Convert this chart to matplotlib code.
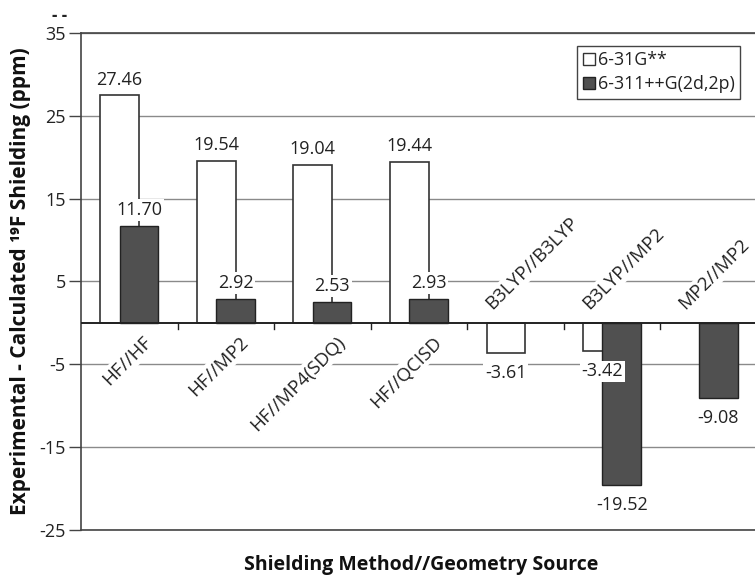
import numpy as np
import matplotlib
matplotlib.use("Agg")
import matplotlib.pyplot as plt
from matplotlib.patches import Patch

plt.rcParams['font.family'] = ['Open Sans', 'DejaVu Sans']
plt.rcParams['axes.unicode_minus'] = False

methods = ['HF//HF', 'HF//MP2', 'HF//MP4(SDQ)', 'HF//QCISD',
           'B3LYP//B3LYP', 'B3LYP//MP2', 'MP2//MP2']
basis_small = [27.46, 19.54, 19.04, 19.44, -3.61, -3.42, np.nan]
basis_large = [11.70, 2.92, 2.53, 2.93, np.nan, -19.52, -9.08]
series_names = ['6-31G**', '6-311++G(2d,2p)']
yticks = [-25, -15, -5, 5, 15, 25, 35]

edge = '#333333'
dark = '#505050'
txt = '#222222'

fig = plt.figure(figsize=(7.55, 5.76), dpi=100)
ax = fig.add_axes([81 / 755, 46 / 576, 676 / 755, 497 / 576])

x = np.arange(len(methods))
w = 0.4
small = np.array(basis_small)
large = np.array(basis_large)

ax.set_xlim(-0.5, len(methods) - 0.5)
ax.set_ylim(yticks[0], yticks[-1])
ax.set_yticks(yticks)
ax.yaxis.grid(True, color='#8a8a8a', lw=1.0)
ax.set_axisbelow(True)

ms = ~np.isnan(small)
ml = ~np.isnan(large)
ax.bar(x[ms] - 0.1, small[ms], w, color='white', edgecolor=edge, lw=1.2, zorder=2)
ax.bar(x[ml] + 0.1, large[ml], w, color=dark, edgecolor='#222222', lw=1.0, zorder=3)

# zero line with short ticks between categories
ax.axhline(0, color='#222222', lw=1.4, zorder=4)
for b in x[1:] - 0.5:
    ax.plot([b, b], [0, -0.7], color='#222222', lw=1.0, zorder=4)

# value labels
def label_bars(xs, vals):
    for xi, v in zip(xs, vals):
        if np.isnan(v):
            continue
        up = v > 0
        ax.annotate(f'{v:.2f}', (xi, v), xytext=(0, 5 if up else -8),
                    textcoords='offset points', ha='center',
                    va='bottom' if up else 'top', fontsize=13, color=txt,
                    bbox=dict(boxstyle='square,pad=0.1', fc='white', ec='none'),
                    zorder=6)

label_bars(x - 0.1, small)
label_bars(x + 0.1, large)

# category labels on the side opposite the bars
for xi, name, a, b in zip(x, methods, small, large):
    pos = np.nanmax([a, b]) > 0
    if pos:
        ax.text(xi + 0.14, -1.2, name, rotation=45, rotation_mode='anchor',
                ha='right', va='top', fontsize=13.5, color=txt, zorder=6,
                bbox=dict(boxstyle='square,pad=0.1', fc='white', ec='none'))
    else:
        ax.text(xi - 0.24, 1.5, name, rotation=45, rotation_mode='anchor',
                ha='left', va='baseline', fontsize=13.5, color=txt, zorder=6,
                bbox=dict(boxstyle='square,pad=0.1', fc='white', ec='none'))

for s in ['left', 'top', 'bottom', 'right']:
    ax.spines[s].set_color('#444444')
    ax.spines[s].set_linewidth(1.2)

ax.tick_params(axis='y', direction='out', length=9, width=1, color='#444444',
               labelsize=13, pad=2, labelcolor=txt)
ax.tick_params(axis='x', bottom=False, labelbottom=False)

ax.set_ylabel('Experimental - Calculated \u00b9\u2079F Shielding (ppm)', fontsize=15,
              fontweight='bold', labelpad=6, color='#111111')
fig.text(421 / 755, 1 - 565 / 576, 'Shielding Method//Geometry Source',
         ha='center', va='center', fontsize=14, fontweight='bold', color='#111111')
fig.text(60 / 755, 1 - 16 / 576, '- -', ha='center', va='center', fontsize=12,
         fontweight='bold', color=txt)

handles = [Patch(facecolor='white', edgecolor=edge, lw=1.0),
           Patch(facecolor=dark, edgecolor='#222222', lw=1.0)]
leg = ax.legend(handles, series_names, loc='upper right', bbox_to_anchor=(0.975, 0.974),
                borderaxespad=0, fontsize=12.8, handlelength=0.7, handleheight=0.7,
                handletextpad=0.15, borderpad=0.3, labelspacing=0.35, fancybox=False,
                framealpha=1, edgecolor='#444444')
leg.get_frame().set_linewidth(1.0)
for t in leg.get_texts():
    t.set_color(txt)

fig.savefig('out.png', dpi=100)
